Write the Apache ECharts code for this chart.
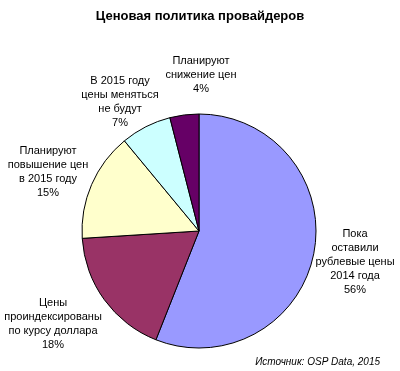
<!DOCTYPE html>
<html>
<head>
<meta charset="utf-8">
<script src="https://cdn.jsdelivr.net/npm/echarts@6/dist/echarts.min.js"></script>
<style>html,body{margin:0;padding:0;background:#fff}#c{width:400px;height:371px}</style>
</head>
<body>
<div id="c"></div>
<script>
const categories = [
  'Пока\nоставили\nрублевые цены\n2014 года',
  'Цены\nпроиндексированы\nпо курсу доллара',
  'Планируют\nповышение цен\nв 2015 году',
  'В 2015 году\nцены меняться\nне будут',
  'Планируют\nснижение цен'
];
const values = [56, 18, 15, 7, 4];
const colors = ['#9999FF', '#993366', '#FFFFCC', '#CCFFFF', '#660066'];
const labelCenters = [[355, 262], [53, 324], [48, 172], [120, 102], [201, 75]];

const chart = echarts.init(document.getElementById('c'), null, {renderer: 'canvas'});
chart.setOption({
  backgroundColor: '#fff',
  animation: false,
  title: {
    text: 'Ценовая политика провайдеров',
    left: 'center',
    top: 5,
    textStyle: {fontFamily: 'Liberation Sans, Arial, sans-serif', fontSize: 13, fontWeight: 'bold', color: '#000'}
  },
  graphic: [{
    type: 'text',
    right: 20,
    top: 357,
    style: {
      text: 'Источник: OSP Data, 2015',
      font: 'italic 10px "Liberation Sans", Arial, sans-serif',
      fill: '#000'
    }
  }],
  series: [{
    type: 'pie',
    center: [199, 231],
    radius: 117,
    startAngle: 90,
    clockwise: true,
    avoidLabelOverlap: false,
    data: values.map((v, i) => ({
      name: categories[i],
      value: v,
      itemStyle: {color: colors[i]}
    })),
    itemStyle: {borderColor: '#000', borderWidth: 1},
    label: {
      show: true,
      position: 'outside',
      formatter: p => p.name + '\n' + p.value + '%',
      fontFamily: 'Liberation Sans, Arial, sans-serif',
      fontSize: 11,
      lineHeight: 14,
      color: '#000',
      align: 'center'
    },
    labelLine: {show: false},
    labelLayout: params => ({
      x: labelCenters[params.dataIndex][0],
      y: labelCenters[params.dataIndex][1],
      align: 'center',
      verticalAlign: 'middle'
    }),
    emphasis: {disabled: true}
  }]
});
</script>
</body>
</html>
